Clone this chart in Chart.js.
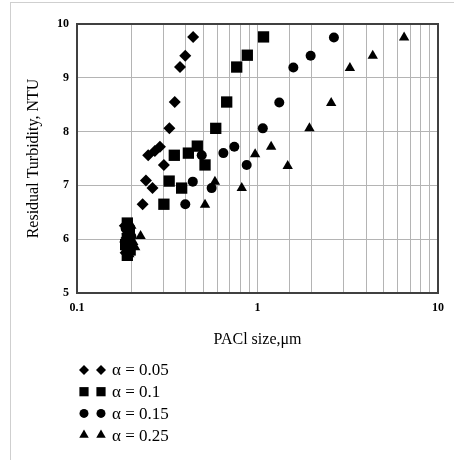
<!DOCTYPE html>
<html>
<head>
<meta charset="utf-8">
<script src="https://cdn.jsdelivr.net/npm/chart.js@4.4.0/dist/chart.umd.min.js"></script>
<style>
body{margin:0;background:#fff;}
#frame{position:absolute;left:10px;top:2px;width:460px;height:470px;border:1px solid #cfcfcf;}
#wrap{position:absolute;left:0;top:0;width:454px;height:460px;}
</style>
</head>
<body>
<div id="frame"></div>
<div id="wrap"><canvas id="chart" width="454" height="460"></canvas></div>
<script>
// series labels (legend)
var seriesLabels = ['α = 0.05', 'α = 0.1', 'α = 0.15', 'α = 0.25'];
var seriesShapes = ['rectRot', 'rect', 'circle', 'triangle'];

// PACl size (um) and residual turbidity (NTU)
var diamondX = [0.44, 0.398, 0.372, 0.348, 0.325, 0.288, 0.27, 0.248, 0.303, 0.241, 0.262, 0.231,
                0.184, 0.19, 0.185, 0.19, 0.186, 0.188];
var diamondY = [9.76, 9.41, 9.2, 8.55, 8.06, 7.72, 7.64, 7.56, 7.38, 7.09, 6.95, 6.65,
                6.25, 6.1, 5.95, 5.85, 5.75, 6.02];
var squareX = [1.08, 0.878, 0.767, 0.675, 0.587, 0.464, 0.414, 0.346, 0.512, 0.324, 0.38, 0.303,
               0.19, 0.195, 0.19, 0.186, 0.19, 0.197];
var squareY = [9.76, 9.42, 9.2, 8.55, 8.06, 7.73, 7.6, 7.56, 7.38, 7.08, 6.95, 6.65,
               6.3, 6.15, 6.0, 5.9, 5.7, 5.8];
var circleX = [2.65, 1.97, 1.58, 1.32, 1.07, 0.744, 0.647, 0.491, 0.871, 0.438, 0.557, 0.398,
               0.186, 0.2, 0.19, 0.2, 0.19];
var circleY = [9.75, 9.41, 9.19, 8.54, 8.06, 7.72, 7.6, 7.56, 7.38, 7.07, 6.95, 6.65,
               6.2, 6.05, 5.95, 5.85, 5.75];
var triangleX = [6.49, 4.35, 3.25, 2.56, 1.94, 1.19, 0.97, 1.47, 0.581, 0.818, 0.512,
                 0.2, 0.225, 0.205, 0.21, 0.195];
var triangleY = [9.75, 9.41, 9.18, 8.53, 8.06, 7.72, 7.58, 7.36, 7.07, 6.95, 6.64,
                 6.25, 6.06, 5.95, 5.85, 5.72];

// tick labels
var xTickLabels = [0.1, 1, 10];
var yTicks = [5, 6, 7, 8, 9, 10];

function pts(xs, ys){
    var out = [];
    for (var i = 0; i < xs.length; i++) out.push({x: xs[i], y: ys[i]});
    return out;
}

function drawShape(c, style, x, y, r){
    c.beginPath();
    if (style == 'rectRot'){
        c.moveTo(x - r, y); c.lineTo(x, y - r); c.lineTo(x + r, y); c.lineTo(x, y + r);
    } else if (style == 'rect'){
        var s = r * Math.SQRT1_2;
        c.rect(x - s, y - s, 2 * s, 2 * s);
    } else if (style == 'circle'){
        c.arc(x, y, r, 0, Math.PI * 2);
    } else {
        c.moveTo(x, y - r); c.lineTo(x + r * 0.866, y + r / 2); c.lineTo(x - r * 0.866, y + r / 2);
    }
    c.closePath();
    c.fill();
}

// box around the plot area
var frameBox = {
    id: 'frameBox',
    afterDatasetsDraw: function(chart){
        var a = chart.chartArea, c = chart.ctx;
        c.save();
        c.strokeStyle = '#404040';
        c.lineWidth = 2;
        c.strokeRect(a.left, a.top, a.right - a.left, a.bottom - a.top);
        c.restore();
    }
};

// legend with two markers per entry, like the original figure
var twoMarkLegend = {
    id: 'twoMarkLegend',
    afterDraw: function(chart){
        var c = chart.ctx;
        var legR = [5, 6.5, 4.5, 5.5];
        c.save();
        c.fillStyle = '#000';
        c.font = '17px "Liberation Serif"';
        c.textBaseline = 'middle';
        for (var i = 0; i < seriesLabels.length; i++){
            var y = 370 + i * 21.7;
            drawShape(c, seriesShapes[i], 84, y, legR[i]);
            drawShape(c, seriesShapes[i], 101, y, legR[i]);
            c.fillText(seriesLabels[i], 112, y + 1);
        }
        c.restore();
    }
};

var radii = [6, 8, 5, 6];
var allData = [pts(diamondX, diamondY), pts(squareX, squareY), pts(circleX, circleY), pts(triangleX, triangleY)];
var datasets = [];
for (var i = 0; i < seriesLabels.length; i++){
    datasets.push({
        label: seriesLabels[i],
        data: allData[i],
        pointStyle: seriesShapes[i],
        pointRadius: radii[i],
        pointHoverRadius: radii[i],
        backgroundColor: '#000',
        borderColor: '#000',
        borderWidth: 0,
        showLine: false
    });
}

var ctx = document.getElementById('chart').getContext('2d');
var chart = new Chart(ctx, {
    type: 'scatter',
    data: {datasets: datasets},
    options: {
        responsive: false,
        animation: false,
        layout: {padding: {left: 0, top: 24, right: 16, bottom: 107}},
        plugins: {legend: {display: false}, tooltip: {enabled: false}},
        scales: {
            x: {
                type: 'logarithmic',
                min: 0.1,
                max: 10,
                afterFit: function(s){ s.height = 60; },
                grid: {color: '#b4b4b4', lineWidth: 1, drawTicks: false},
                border: {display: false},
                ticks: {
                    autoSkip: false,
                    maxRotation: 0,
                    padding: 8,
                    color: '#000',
                    font: {family: '"Liberation Serif"', size: 12, weight: 'bold'},
                    callback: function(v){
                        return xTickLabels.indexOf(Number(v)) >= 0 ? String(v) : '';
                    }
                },
                title: {
                    display: true,
                    text: 'PACl size,μm',
                    color: '#000',
                    font: {family: '"Liberation Serif"', size: 16},
                    padding: {top: 0, bottom: 4}
                }
            },
            y: {
                min: 5,
                max: 10,
                afterFit: function(s){ s.width = 77; },
                afterBuildTicks: function(s){ s.ticks = yTicks.map(function(v){ return {value: v}; }); },
                grid: {color: '#b4b4b4', lineWidth: 1, drawTicks: false},
                border: {display: false},
                ticks: {
                    padding: 8,
                    color: '#000',
                    font: {family: '"Liberation Serif"', size: 12, weight: 'bold'}
                },
                title: {
                    display: true,
                    text: 'Residual Turbidity, NTU',
                    color: '#000',
                    font: {family: '"Liberation Serif"', size: 16},
                    padding: {top: 24, bottom: 0}
                }
            }
        }
    },
    plugins: [frameBox, twoMarkLegend]
});
</script>
</body>
</html>
